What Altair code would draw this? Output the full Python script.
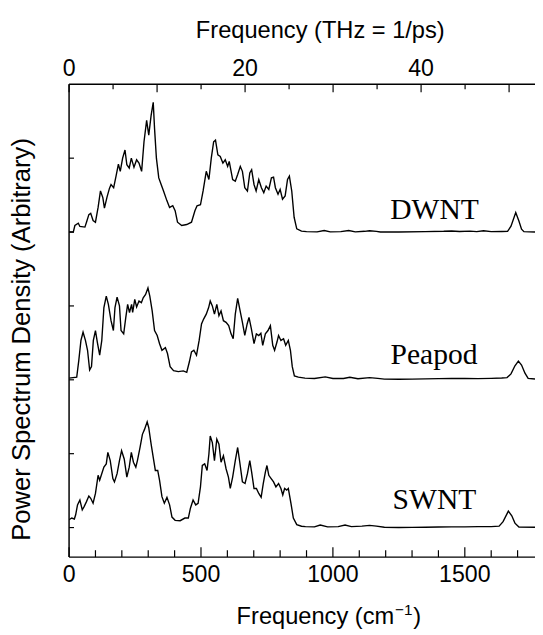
import altair as alt
import pandas as pd

# ---- data (frequency in cm^-1, amplitude above each baseline) ----
dwnt_cm = [0, 16, 22, 35, 41, 60, 66, 75, 82, 91, 100, 110, 119, 128, 134, 144, 153, 159, 169, 178,
           187, 194, 203, 212, 219, 228, 236, 246, 256, 265, 275, 284, 294, 302, 311, 319, 324, 331, 340, 349,
           358, 371, 381, 393, 402, 411, 427, 446, 464, 477, 485, 498, 508, 520, 530, 539, 548, 555, 564, 573,
           583, 592, 601, 607, 620, 630, 639, 649, 657, 666, 676, 685, 692, 701, 709, 719, 729, 738, 747, 757,
           767, 775, 782, 792, 800, 809, 819, 828, 835, 844, 853, 863, 881, 900, 940, 967, 990, 1030, 1060, 1085,
           1120, 1139, 1165, 1180, 1250, 1350, 1420, 1450, 1480, 1520, 1545, 1571, 1600, 1640, 1662, 1675, 1693, 1705, 1715, 1724,
           1766]
dwnt_amp = [0.0, 0.0, 0.089, 0.12, 0.076, 0.067, 0.133, 0.236, 0.253, 0.156, 0.133, 0.333, 0.556, 0.467, 0.324, 0.476, 0.591, 0.644, 0.6, 0.756,
            0.92, 0.822, 1.0, 1.111, 0.911, 0.867, 1.0, 0.876, 0.978, 0.933, 0.822, 1.222, 1.511, 1.311, 1.578, 1.756, 1.4, 1.0, 0.733, 0.644,
            0.556, 0.422, 0.333, 0.356, 0.289, 0.133, 0.089, 0.102, 0.133, 0.289, 0.356, 0.369, 0.556, 0.822, 0.711, 1.0, 1.222, 1.244, 1.044, 1.022,
            0.933, 0.978, 0.889, 0.956, 0.711, 0.689, 0.778, 0.889, 0.822, 0.6, 0.556, 0.8, 0.844, 0.644, 0.556, 0.711, 0.6, 0.533, 0.622, 0.578,
            0.733, 0.742, 0.6, 0.511, 0.578, 0.444, 0.489, 0.711, 0.756, 0.556, 0.2, 0.044, 0.013, 0.005, 0.003, 0.02, 0.003, 0.005, 0.02, 0.003,
            0.01, 0.018, 0.01, 0.0, 0.0, 0.005, 0.01, 0.015, 0.008, 0.012, 0.006, 0.018, 0.006, 0.008, 0.01, 0.08, 0.263, 0.15, 0.04, 0.005,
            0.0]

peapod_cm = [0, 29, 37, 45, 53, 62, 70, 78, 85, 92, 100, 107, 116, 124, 132, 141, 149, 159, 168, 174,
             182, 191, 197, 207, 215, 222, 229, 237, 241, 249, 256, 265, 274, 281, 290, 299, 306, 315, 324, 334,
             343, 352, 365, 373, 383, 396, 414, 433, 446, 456, 464, 473, 483, 493, 502, 510, 520, 529, 535, 543,
             551, 560, 568, 576, 585, 595, 605, 614, 622, 630, 639, 647, 657, 666, 675, 682, 691, 701, 710, 719,
             727, 734, 744, 754, 763, 772, 779, 788, 794, 803, 813, 821, 831, 839, 846, 854, 869, 894, 930, 971,
             1000, 1040, 1064, 1095, 1139, 1170, 1195, 1250, 1300, 1350, 1400, 1450, 1500, 1550, 1600, 1640, 1660, 1675, 1690, 1703,
             1715, 1728, 1740, 1766]
peapod_amp = [0.022, 0.036, 0.267, 0.533, 0.644, 0.533, 0.4, 0.133, 0.178, 0.533, 0.667, 0.511, 0.333, 0.533, 0.978, 1.133, 1.022, 0.8, 0.667, 0.978,
              1.12, 1.0, 0.667, 0.622, 0.844, 1.022, 0.911, 1.022, 0.911, 1.089, 0.987, 1.067, 1.044, 1.111, 1.156, 1.244, 1.133, 0.933, 0.667, 0.6,
              0.489, 0.4, 0.436, 0.356, 0.178, 0.124, 0.111, 0.12, 0.102, 0.244, 0.378, 0.4, 0.333, 0.533, 0.756, 0.822, 0.889, 0.978, 1.067, 1.0,
              0.889, 1.022, 0.867, 0.933, 0.8, 0.778, 0.733, 0.622, 0.556, 0.889, 1.102, 0.956, 0.778, 0.6, 0.756, 0.844, 0.689, 0.489, 0.622, 0.6,
              0.631, 0.467, 0.622, 0.667, 0.733, 0.467, 0.4, 0.511, 0.6, 0.533, 0.556, 0.467, 0.533, 0.4, 0.178, 0.053, 0.036, 0.022, 0.018, 0.04,
              0.018, 0.018, 0.035, 0.015, 0.03, 0.02, 0.01, 0.008, 0.01, 0.012, 0.016, 0.018, 0.02, 0.016, 0.02, 0.025, 0.03, 0.08, 0.19, 0.253,
              0.2, 0.09, 0.02, 0.01]

swnt_cm = [0, 10, 20, 25, 32, 41, 50, 57, 66, 75, 82, 91, 100, 110, 116, 122, 132, 141, 147, 156,
           166, 172, 182, 191, 199, 209, 219, 228, 236, 244, 253, 259, 269, 278, 286, 296, 302, 311, 319, 327,
           336, 343, 352, 361, 371, 381, 390, 402, 421, 439, 452, 460, 470, 480, 489, 498, 505, 514, 523, 530,
           535, 543, 551, 560, 568, 576, 585, 595, 604, 611, 620, 630, 639, 647, 657, 667, 676, 685, 692, 701,
           710, 719, 728, 736, 744, 750, 757, 766, 775, 784, 794, 803, 810, 817, 825, 831, 841, 850, 863, 881,
           896, 930, 952, 980, 1020, 1046, 1070, 1110, 1139, 1165, 1195, 1250, 1300, 1350, 1400, 1450, 1500, 1550, 1600, 1630,
           1645, 1665, 1678, 1690, 1705, 1766]
swnt_amp = [0.107, 0.129, 0.116, 0.173, 0.307, 0.373, 0.24, 0.284, 0.351, 0.427, 0.396, 0.329, 0.462, 0.707, 0.64, 0.707, 0.818, 0.862, 1.018, 0.907,
            0.662, 0.618, 0.729, 0.907, 1.04, 0.929, 0.684, 0.818, 1.018, 0.884, 0.818, 0.907, 1.084, 1.262, 1.329, 1.431, 1.351, 1.129, 0.951, 0.773,
            0.773, 0.64, 0.418, 0.329, 0.409, 0.307, 0.142, 0.098, 0.093, 0.129, 0.129, 0.262, 0.373, 0.307, 0.329, 0.551, 0.84, 0.862, 0.773, 0.996,
            1.24, 1.151, 0.907, 1.196, 1.129, 0.884, 0.973, 0.796, 0.684, 0.529, 0.684, 0.907, 1.084, 0.884, 0.618, 0.596, 0.729, 0.907, 0.751, 0.529,
            0.529, 0.462, 0.409, 0.596, 0.751, 0.84, 0.707, 0.662, 0.618, 0.551, 0.596, 0.529, 0.44, 0.529, 0.507, 0.529, 0.329, 0.129, 0.04, 0.018,
            0.013, 0.01, 0.035, 0.01, 0.012, 0.035, 0.012, 0.02, 0.03, 0.02, 0.005, 0.0, 0.002, 0.005, 0.008, 0.01, 0.01, 0.012, 0.012, 0.02,
            0.08, 0.223, 0.16, 0.06, 0.008, 0.005]

series_names = ["DWNT", "Peapod", "SWNT"]
series_offsets = [5, 3, 1]          # vertical offset of each spectrum (arbitrary units)
label_cm = [1385, 1383, 1385]
label_y = [5.18, 3.22, 1.25]

cm_ticks_major = [0, 500, 1000, 1500]
cm_ticks_minor = [100, 200, 300, 400, 600, 700, 800, 900, 1100, 1200, 1300, 1400, 1600, 1700]
thz_ticks_major = [0, 10, 20, 30, 40, 50]
thz_ticks_minor = [5, 15, 25, 35, 45]
thz_labels = [0, 20, 40]
y_ticks = [1, 2, 3, 4, 5, 6]

CM_PER_THZ = 33.356
X_MAX = 1766
W, H = 473, 480

rows = []
for name, off, cms, amps in zip(series_names, series_offsets,
                                [dwnt_cm, peapod_cm, swnt_cm],
                                [dwnt_amp, peapod_amp, swnt_amp]):
    for c, a in zip(cms, amps):
        rows.append({"series": name, "cm": c, "psd": off + a})
df = pd.DataFrame(rows)

FONT = "Liberation Sans"
TICK_FS = 23.5
xs = alt.Scale(domain=[0, X_MAX], nice=False, zero=False)
ys = alt.Scale(domain=[0.6, 7.0], nice=False, zero=False)

lines = alt.Chart(df).mark_line(color="black", strokeWidth=1.4, clip=True).encode(
    x=alt.X("cm:Q", scale=xs, axis=None),
    y=alt.Y("psd:Q", scale=ys, axis=None),
    detail="series:N",
)

def xrule(vals, y0, y1, mult=1.0):
    d = pd.DataFrame({"v": vals})
    d["cm"] = d["v"] * mult
    return alt.Chart(d).mark_rule(color="black", strokeWidth=1.2).encode(
        x=alt.X("cm:Q", scale=xs, axis=None),
        y=alt.value(y0), y2=alt.value(y1))

yrules = alt.Chart(pd.DataFrame({"v": y_ticks})).mark_rule(color="black", strokeWidth=1.2).encode(
    y=alt.Y("v:Q", scale=ys, axis=None), x=alt.value(0), x2=alt.value(5))

one = pd.DataFrame({"v": [0]})
top_line = alt.Chart(one).mark_rule(color="black", strokeWidth=1.5).encode(
    x=alt.value(0), x2=alt.value(W), y=alt.value(0))
bottom_line = alt.Chart(one).mark_rule(color="black", strokeWidth=1.5).encode(
    x=alt.value(0), x2=alt.value(W), y=alt.value(H))
left_line = alt.Chart(one).mark_rule(color="black", strokeWidth=1.5).encode(
    x=alt.value(0), y=alt.value(0), y2=alt.value(H))

tl = pd.DataFrame({"thz": thz_labels})
tl["cm"] = tl["thz"] * CM_PER_THZ
top_labels = alt.Chart(tl).mark_text(font=FONT, fontSize=TICK_FS, align="center", baseline="alphabetic",
                                     color="black").encode(
    x=alt.X("cm:Q", scale=xs, axis=None), y=alt.value(-8.4), text=alt.Text("thz:Q", format="d"))

bottom_labels = alt.Chart(pd.DataFrame({"cm": cm_ticks_major})).mark_text(
    font=FONT, fontSize=TICK_FS, align="center", baseline="alphabetic", color="black").encode(
    x=alt.X("cm:Q", scale=xs, axis=None), y=alt.value(H + 25.5), text=alt.Text("cm:Q", format="d"))

labels = alt.Chart(pd.DataFrame({"name": series_names, "cm": label_cm, "y": label_y})).mark_text(
    font="Liberation Serif", fontSize=30, align="center", baseline="alphabetic", color="black").encode(
    x=alt.X("cm:Q", scale=xs, axis=None), y=alt.Y("y:Q", scale=ys, axis=None), text="name:N")

def txt(s, x, y, size, align="center", angle=None, baseline="alphabetic"):
    kw = dict(font=FONT, fontSize=size, align=align, baseline=baseline, color="black")
    if angle is not None:
        kw["angle"] = angle
    return alt.Chart(pd.DataFrame({"t": [s]})).mark_text(**kw).encode(
        text="t:N", x=alt.value(x), y=alt.value(y))

titles = [
    txt("Frequency (THz = 1/ps)", 255, -46.7, 24),
    txt("Frequency (cm", 330, 548.3, 24, align="right"),
    txt("\u22121", 331, 538.3, 15.5, align="left"),
    txt(")", 349.5, 548.3, 24, align="left"),
    txt("Power Spectrum Density (Arbitrary)", -48, 259, 26, angle=270, baseline="middle"),
]

chart = alt.layer(
    lines,
    xrule(cm_ticks_major, H, H - 10), xrule(cm_ticks_minor, H, H - 7),
    xrule(thz_ticks_major, 0, 8, CM_PER_THZ), xrule(thz_ticks_minor, 0, 5, CM_PER_THZ),
    yrules, top_line, bottom_line, left_line, top_labels, bottom_labels, labels, *titles,
).properties(
    width=W, height=H,
    padding={"left": 62, "top": 72.7, "right": 0, "bottom": 74},
    autosize=alt.AutoSizeParams(type="none"),
).configure_view(stroke=None)

chart.save("out.html", embed_options={"renderer": "svg", "actions": False})
